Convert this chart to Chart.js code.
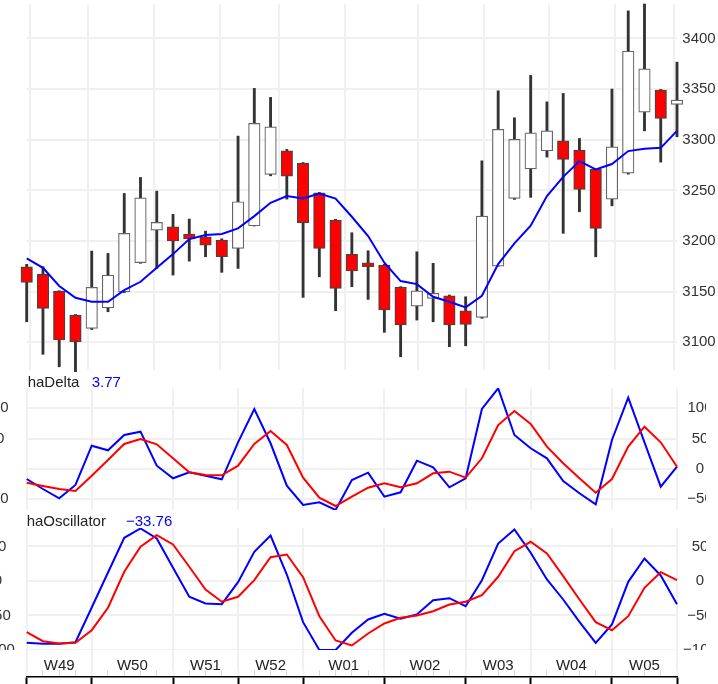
<!DOCTYPE html>
<html><head><meta charset="utf-8">
<script src="https://cdn.jsdelivr.net/npm/chart.js@4/dist/chart.umd.min.js"></script>
<style>
html,body{margin:0;padding:0;background:#fff;overflow:hidden;}
#wrap{position:relative;width:718px;height:684px;overflow:hidden;background:#fff;}
canvas{position:absolute;left:0;}
.ttl{position:absolute;font:15px "Liberation Sans",Arial,sans-serif;color:#222;white-space:nowrap;line-height:17px;}
.val{color:#0000ff;}
</style></head><body>
<div id="wrap">
<canvas id="c1" width="718" height="374" style="top:0px"></canvas>
<canvas id="c2" width="706" height="134" style="top:380px"></canvas>
<canvas id="c3" width="706" height="174" style="top:510px"></canvas>
<div class="ttl" style="left:27.7px;top:373px">haDelta</div>
<div class="ttl val" style="left:91.7px;top:373px" id="dv"></div>
<div class="ttl" style="left:26.7px;top:512px">haOscillator</div>
<div class="ttl val" style="left:126px;top:512px" id="ov"></div>
</div>
<script>
// ---------------- data ----------------
const weekOf = ['W49','W49','W49','W49',
  'W50','W50','W50','W50','W50',
  'W51','W51','W51','W51',
  'W52','W52','W52','W52',
  'W01','W01','W01','W01','W01',
  'W02','W02','W02','W02','W02',
  'W03','W03','W03','W03',
  'W04','W04','W04','W04','W04',
  'W05','W05','W05','W05','W05'];
const open  = [3174.6,3167.1,3150.6,3126.9,3113.8,3134.1,3149.9,3178.6,3210.8,3214.1,3206.9,3204.2,3201.0,3192.8,3215.1,3265.8,3289.1,3276.6,3247.6,3220.7,3186.8,3178.6,3176.3,3154.3,3135.8,3143.4,3146.0,3131.2,3124.7,3175.3,3242.1,3271.3,3289.1,3299.0,3289.8,3270.7,3241.4,3267.1,3327.3,3349.0,3334.9];
const high  = [3177.0,3174.6,3151.0,3127.5,3190.1,3187.8,3247.0,3262.8,3249.3,3226.3,3221.7,3209.8,3202.2,3303.6,3350.7,3341.8,3290.5,3277.6,3248.0,3221.5,3208.2,3190.4,3177.0,3155.0,3189.4,3178.0,3146.7,3145.0,3279.2,3348.3,3321.7,3363.5,3337.4,3345.7,3301.3,3271.4,3350.0,3427.2,3434.0,3349.7,3376.6];
const low   = [3120.3,3088.2,3075.9,3071.0,3112.6,3130.2,3149.0,3178.0,3173.0,3166.4,3180.2,3184.5,3169.1,3173.0,3214.8,3264.4,3241.4,3144.4,3164.7,3131.2,3154.9,3142.4,3109.9,3085.8,3122.0,3120.3,3095.7,3096.6,3123.7,3175.0,3241.1,3243.1,3282.9,3207.6,3228.9,3184.5,3234.8,3266.0,3308.8,3277.9,3302.9];
const close = [3159.2,3133.6,3102.3,3100.6,3154.3,3166.4,3207.6,3242.7,3218.4,3200.0,3202.2,3196.0,3184.5,3238.8,3316.1,3312.8,3264.1,3218.0,3192.8,3153.3,3170.4,3174.6,3131.9,3117.1,3150.9,3148.4,3117.1,3117.8,3224.6,3310.2,3300.3,3306.8,3308.8,3280.6,3251.0,3212.5,3293.0,3387.5,3370.0,3321.0,3339.1];
const sma   = [3182.9,3173.6,3155.6,3144.0,3140.1,3140.1,3151.6,3159.8,3173.6,3187.1,3201.9,3205.9,3206.9,3212.5,3224.6,3237.8,3244.4,3242.1,3247.0,3241.9,3224.0,3204.9,3178.6,3160.5,3157.5,3145.0,3140.1,3134.5,3146.0,3177.3,3197.7,3215.1,3244.4,3263.4,3278.9,3270.7,3276.0,3288.8,3291.1,3292.0,3308.8];
const haDeltaLine   = [-16.5,-33,-48.3,-26.4,38.4,30.8,56,61.5,5.4,-15.3,-5.4,-11,-17,44,98.9,42.4,-27.5,-59.3,-54.9,-67.5,-18.1,-6.1,-45.6,-38.4,13.7,2.8,-30.2,-15.3,98.9,133,56,34.1,17.6,-19.8,-40,-58.2,47.8,117.5,44,-29.2,3.77];
const haDeltaSignal = [-22.6,-28,-33,-36.3,-11,14.8,41.2,49.4,40.7,17.6,-5.4,-9.9,-10.4,5.4,41.2,62.6,39.6,-14.3,-47.3,-61,-45.6,-30.8,-23.6,-30.2,-23.6,-7.1,-4.4,-14.3,17.6,72.5,95.6,74.2,36.8,9.4,-15.3,-39,-16.5,36.8,69.7,44,3.8];
const haOscLine   = [-89.6,-91,-91,-88.7,-38.4,12.3,62.6,76.1,61.6,19.1,-22.9,-32.6,-33.6,-1.7,42.3,65.9,9.4,-59.7,-100,-100,-75.1,-55.8,-47.5,-54.8,-48.5,-27.8,-24.9,-36.5,1.2,54.3,74.6,40.9,2.2,-26.8,-59.1,-89.6,-63,-1.2,32.6,8,-33.76];
const haOscSignal = [-74.2,-87.2,-90.6,-89.6,-71.3,-38.8,13.3,49.6,66.4,52.9,20.6,-12.3,-30.1,-22.9,1.2,34.5,38.4,5.5,-51,-86.2,-93.5,-76.1,-61.6,-53.3,-50,-43.8,-34.1,-30.1,-20.6,6.1,43.2,56.8,39.8,7,-26.8,-59.7,-71.3,-51,-9.9,12.8,1.2];
const priceTicks = [3100,3150,3200,3250,3300,3350,3400];
const deltaTicks = [-50,0,50,100];
const oscTicks   = [-100,-50,0,50];

// ---------------- helpers ----------------
const N = close.length;
const dayLabels = weekOf.map((w,i)=>w+'.'+i);
const bounds = [0];
for (let i=1;i<N;i++) if (weekOf[i]!==weekOf[i-1]) bounds.push(i);
bounds.push(N-1);
const centers = bounds.slice(0,-1).map((b,k)=>(b+bounds[k+1])/2);
const centerLabel = {}; bounds.slice(0,-1).forEach((b,k)=>{ centerLabel[centers[k]] = weekOf[b]; });

const GRID = '#f0f0f0';
const FONT = '"Liberation Sans", Arial, sans-serif';
Chart.defaults.font.family = FONT;
Chart.defaults.font.size = 15;
Chart.defaults.color = '#333';
const fmt = v => (v<0 ? '\u2212'+Math.abs(v) : String(v));
const numFmt = v => (v<0 ? '\u2212'+Math.abs(v).toFixed(2) : v.toFixed(2));
document.getElementById('dv').textContent = numFmt(haDeltaLine[N-1]);
document.getElementById('ov').textContent = numFmt(haOscLine[N-1]);

function dataX(){ return {type:'category', labels: dayLabels, offset:false, display:false}; }
function gridX(){ return {type:'linear', min:0, max:N-1, position:'bottom', weight:0,
  afterBuildTicks: s=>{ s.ticks = bounds.map(v=>({value:v})); },
  ticks:{display:false}, border:{display:false},
  grid:{color:GRID, lineWidth:2, drawTicks:false},
  afterFit: s=>{ s.height=0; s.paddingLeft=0; s.paddingRight=0; } }; }
function yAxis(pos, min, max, ticks, pad, showGrid, w){ return {type:'linear', position:pos, min, max,
  afterBuildTicks: s=>{ s.ticks = ticks.map(v=>({value:v})); },
  ticks:{callback: fmt, padding: pad, crossAlign:'center', color:'#333', font:{size:15}},
  grid:{color:GRID, lineWidth:2, drawTicks:false, drawOnChartArea: showGrid},
  border:{display:false},
  afterFit: s=>{ s.width = w; s.paddingTop=0; s.paddingBottom=0; } }; }
const base = {responsive:false, animation:false, devicePixelRatio:1, events:[],
  plugins:{legend:{display:false}, tooltip:{enabled:false}, title:{display:false}}};

// ---------------- main price panel ----------------
const bodyLow  = open.map((o,i)=>Math.min(o,close[i]));
const bodyHigh = open.map((o,i)=>Math.max(o,close[i]));
const isDown = open.map((o,i)=>close[i]<o);
new Chart(document.getElementById('c1'), {
  type:'bar',
  data:{ labels: dayLabels, datasets:[
    {type:'line', data: sma, borderColor:'#0000ff', borderWidth:2, pointRadius:0, tension:0, order:1},
    {data: bodyLow.map((v,i)=>[v, bodyHigh[i]]), backgroundColor: isDown.map(d=>d?'#ff0000':'#ffffff'),
     borderColor: isDown.map(d=>d?'#444444':'#666666'), borderWidth:1.2, borderSkipped:false,
     barThickness:11.5, grouped:false, order:2, clip:false},
    {data: low.map((v,i)=>[v, high[i]]), backgroundColor:'#333333', borderWidth:0,
     barThickness:2.2, grouped:false, order:3, clip:false}
  ]},
  options:Object.assign({}, base, {
    layout:{padding:{top:4, bottom:4, left:26.7, right:0}},
    scales:{ x: dataX(), xg: gridX(), y: yAxis('right', 3072.7, 3434, priceTicks, 5.3, true, 41) }
  })
});

// ---------------- haDelta panel ----------------
new Chart(document.getElementById('c2'), {
  type:'line',
  data:{ labels: dayLabels, datasets:[
    {data: haDeltaSignal, borderColor:'#ff0000', borderWidth:2, pointRadius:0, tension:0},
    {data: haDeltaLine, borderColor:'#0000ff', borderWidth:2, pointRadius:0, tension:0}
  ]},
  options:Object.assign({}, base, {
    layout:{padding:{top:8, bottom:4, left:0, right:0}},
    scales:{ x: dataX(), xg: gridX(),
      y: yAxis('right', -67.6, 133.5, deltaTicks, 10.3, true, 29),
      yl: yAxis('left', -67.6, 133.5, deltaTicks, 18, false, 26.7) }
  })
});

// ---------------- haOscillator panel + time axis ----------------
const clipPlugin = { id:'clipPanel',
  beforeDraw(c){ const ctx=c.ctx; ctx.save(); ctx.beginPath(); ctx.rect(0,0,c.width,c.chartArea.bottom); ctx.clip(); },
  beforeDatasetsDraw(c){ c.ctx.restore(); } };
const allWeekTicks = bounds.concat(centers).sort((a,b)=>a-b);
const isBound = ctx => bounds.includes(ctx.tick && ctx.tick.value);
new Chart(document.getElementById('c3'), {
  type:'line',
  data:{ labels: dayLabels, datasets:[
    {data: haOscSignal, borderColor:'#ff0000', borderWidth:2, pointRadius:0, tension:0},
    {data: haOscLine, borderColor:'#0000ff', borderWidth:2, pointRadius:0, tension:0}
  ]},
  plugins:[clipPlugin],
  options:Object.assign({}, base, {
    layout:{padding:{top:18, bottom:0, left:0, right:0}},
    scales:{ x: dataX(), xg: gridX(),
      xw: {type:'linear', min:0, max:N-1, position:'bottom', weight:1,
        afterBuildTicks: s=>{ s.ticks = allWeekTicks.map(v=>({value:v})); },
        ticks:{autoSkip:false, maxRotation:0, padding:-12.9, z:1, color:'#222', font:{size:15},
          callback: v => centerLabel[v] || ''},
        grid:{drawOnChartArea:false, drawTicks:true, tickLength:20, z:1, lineWidth:2,
          tickColor: ctx => (isBound(ctx) ? GRID : 'rgba(0,0,0,0)')},
        border:{display:false},
        afterFit: s=>{ s.height=20; s.paddingLeft=0; s.paddingRight=0; } },
      xm: {type:'linear', min:0, max:N-1, position:'bottom', weight:2,
        afterBuildTicks: s=>{ s.ticks = dayLabels.map((d,i)=>({value:i})); },
        ticks:{display:false, z:1},
        grid:{drawOnChartArea:false, drawTicks:true, tickLength:6.5, z:1,
          tickWidth: ctx => (isBound(ctx) ? 2 : 1),
          tickColor: ctx => (isBound(ctx) ? GRID : '#d9d9d9')},
        border:{display:false},
        afterFit: s=>{ s.height=6.5; s.paddingLeft=0; s.paddingRight=0; } },
      xb: {type:'linear', min:0, max:N-1, position:'bottom', weight:3,
        afterBuildTicks: s=>{ s.ticks = bounds.map(v=>({value:v})); },
        ticks:{display:false, z:1},
        grid:{drawOnChartArea:false, drawTicks:true, tickLength:10, z:1, tickWidth:2, tickColor:'#000000'},
        border:{display:true, color:'#000000', width:1.5, z:1},
        afterFit: s=>{ s.height=7.5; s.paddingLeft=0; s.paddingRight=0; } },
      y: yAxis('right', -100, 76.8, oscTicks, 6.1, true, 29),
      yl: yAxis('left', -100, 76.8, oscTicks, 11.8, false, 26.7) }
  })
});
</script>
</body></html>
